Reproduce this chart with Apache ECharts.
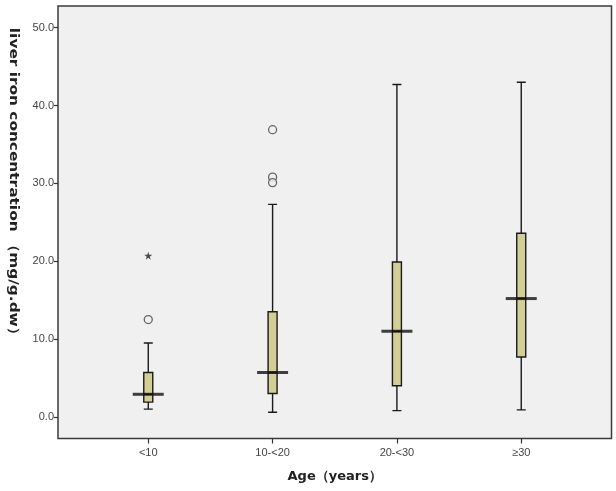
<!DOCTYPE html>
<html>
<head>
<meta charset="utf-8">
<script src="https://cdn.jsdelivr.net/npm/echarts@6/dist/echarts.min.js"></script>
<style>html,body{margin:0;padding:0;background:#fff;}#c{width:616px;height:491px;}</style>
</head>
<body>
<div id="c"></div>
<script>
// ---- data ----
var categories = ['<10', '10-<20', '20-<30', '≥30'];
var whiskerLow  = [1.0, 0.6, 0.8, 0.9];
var q1          = [1.9, 3.0, 4.0, 7.7];
var medians     = [2.9, 5.7, 11.0, 15.2];
var q3          = [5.7, 13.5, 19.9, 23.6];
var whiskerHigh = [9.5, 27.3, 42.7, 43.0];
// outliers: [group index, value]
var outliers = [[0, 12.5], [1, 36.9], [1, 30.8], [1, 30.1]];
var extremes = [[0, 20.7]];
var yTicks = [0, 10, 20, 30, 40, 50];
var yTitle = 'liver iron concentration （mg/g.dw）';
var xTitle = 'Age（years）';

// ---- build series data ----
var positions = categories.map(function (c, i) { return i + 1; });
var boxData = categories.map(function (c, i) {
  return [positions[i], whiskerLow[i], q1[i], medians[i], q3[i], whiskerHigh[i]];
});
var medianData = categories.map(function (c, i) { return [positions[i], medians[i]]; });
var outlierData = outliers.map(function (o) { return [positions[o[0]], o[1]]; });
var extremeData = extremes.map(function (o) { return [positions[o[0]], o[1]]; });

var starPath = 'path://M50,0 L61.8,35.1 L98.9,35.1 L68.9,56.8 L80.3,91.9 L50,70.2 L19.7,91.9 L31.1,56.8 L1.1,35.1 L38.2,35.1 Z';

var chart = echarts.init(document.getElementById('c'), null, {renderer: 'canvas'});
chart.setOption({
  animation: false,
  backgroundColor: '#ffffff',
  grid: {
    left: 58, top: 6, right: 4.5, bottom: 52.5,
    show: true, backgroundColor: '#f0f0f0', borderColor: '#3a3a3a', borderWidth: 1.5
  },
  xAxis: {
    type: 'value',
    min: 0.274, max: 4.726,
    axisLine: {show: false, onZero: false},
    splitLine: {show: false},
    axisTick: {show: true, customValues: positions, length: 5, lineStyle: {color: '#333', width: 1.2}},
    axisLabel: {
      customValues: positions, margin: 9,
      formatter: function (v) { return categories[Math.round(v) - 1]; },
      fontFamily: 'Liberation Sans', fontSize: 11, color: '#444'
    },
    name: xTitle, nameLocation: 'middle', nameGap: 32,
    nameTextStyle: {fontFamily: 'DejaVu Sans', fontWeight: 'bold', fontSize: 13, color: '#222'}
  },
  yAxis: {
    type: 'value',
    min: -2.78, max: 52.79,
    axisLine: {show: false, onZero: false},
    splitLine: {show: false},
    axisTick: {show: true, customValues: yTicks, length: 4, lineStyle: {color: '#333', width: 1.2}},
    axisLabel: {
      customValues: yTicks, margin: 4,
      formatter: function (v) { return v.toFixed(1); },
      fontFamily: 'Liberation Sans', fontSize: 11, color: '#444'
    }
  },
  graphic: [{
    type: 'text',
    x: 13, y: 185,
    rotation: -Math.PI / 2,
    scaleX: 1.18,
    style: {
      text: yTitle, align: 'center', verticalAlign: 'middle',
      fontFamily: 'DejaVu Sans', fontWeight: 'bold', fontSize: 13, fill: '#222'
    }
  }],
  series: [
    {
      type: 'boxplot',
      layout: 'horizontal',
      boxWidth: [9, 9],
      data: boxData,
      itemStyle: {color: '#d4cd96', borderColor: '#1a1a1a', borderWidth: 1.4},
      emphasis: {disabled: true}
    },
    {
      type: 'scatter',
      symbol: 'rect', symbolSize: [31, 3],
      data: medianData,
      itemStyle: {color: '#111'},
      z: 5
    },
    {
      type: 'scatter',
      symbol: 'circle', symbolSize: 8,
      data: outlierData,
      itemStyle: {color: '#f0f0f0', borderColor: '#444', borderWidth: 1.3},
      z: 5
    },
    {
      type: 'scatter',
      symbol: starPath, symbolSize: 8,
      data: extremeData,
      itemStyle: {color: '#222'},
      z: 5
    }
  ]
});
</script>
</body>
</html>
